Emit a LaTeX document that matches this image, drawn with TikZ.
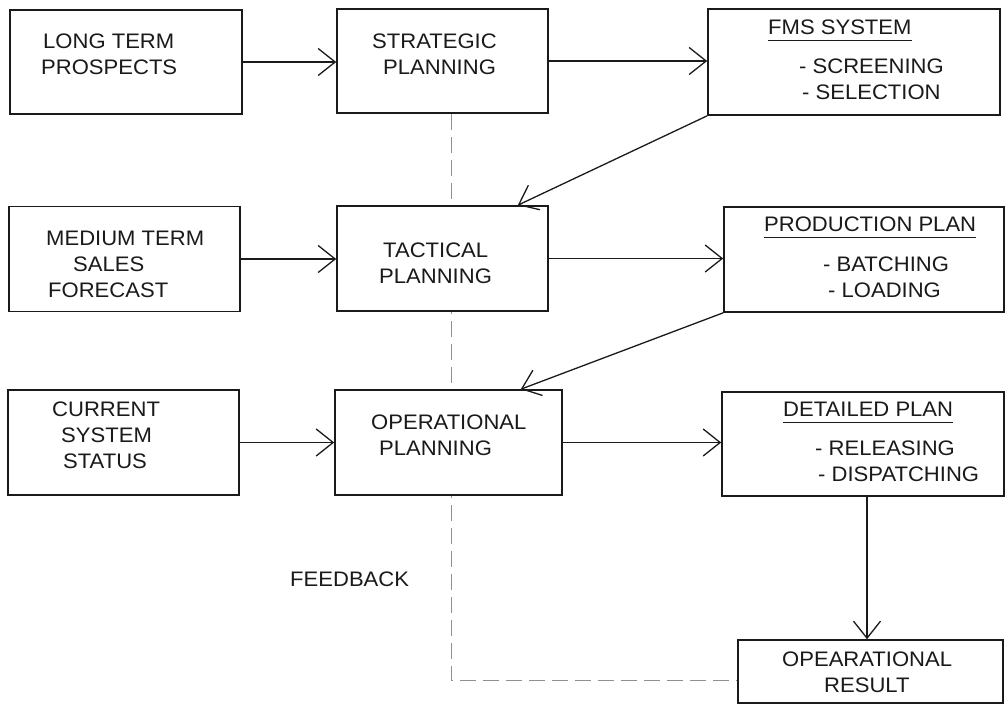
\documentclass[tikz,border=0pt]{standalone}
\usepackage{fontspec}
\setmainfont{Liberation Sans}[FakeStretch=1.05]
\usetikzlibrary{arrows.meta,backgrounds}
\definecolor{ink}{HTML}{1A1A1A}
\definecolor{fbgray}{HTML}{909090}
% underlined heading inside a box
\newcommand\titleul[1]{\setbox0\hbox{#1}\rlap{\rule[-6pt]{\wd0}{0.9pt}}\box0}

\begin{document}
\begin{tikzpicture}[x=1pt,y=-1pt,
  box/.style={draw=ink, line width=1.6pt, fill=white, rectangle, inner sep=0pt},
  txt/.style={anchor=north west, inner sep=0pt, align=left, text=ink,
              font=\fontsize{21}{26}\selectfont},
  arr/.style={draw=ink, line width=1.3pt, -{Straight Barb[length=17pt,width=27pt]}},
  fb/.style={draw=fbgray, line width=1pt, dash pattern=on 16pt off 7pt}]

\useasboundingbox (0,0) rectangle (1005,705);

% boxes
\node[box, minimum width=232pt, minimum height=104pt] (A) at (126,62) {};
\node[box, minimum width=211pt, minimum height=104pt] (B) at (442.5,61) {};
\node[box, minimum width=292pt, minimum height=106pt] (C) at (854,62) {};
\node[box, minimum width=231pt, minimum height=105pt] (D) at (124.5,259) {};
\node[box, minimum width=211pt, minimum height=105pt] (E) at (442.5,258.5) {};
\node[box, minimum width=280pt, minimum height=105pt] (F) at (864,259.5) {};
\node[box, minimum width=231pt, minimum height=105pt] (G) at (123.5,442.5) {};
\node[box, minimum width=227pt, minimum height=105pt] (H) at (448.5,442.5) {};
\node[box, minimum width=282pt, minimum height=104pt] (I) at (863,444) {};
\node[box, minimum width=265pt, minimum height=63pt] (J) at (870.5,671.5) {};

% box texts
\node[txt] (tA) at (41,33.8) {\hspace*{2pt}LONG TERM\\PROSPECTS};
\node[txt] (tB) at (372,33.8) {STRATEGIC\\\hspace*{11pt}PLANNING};
\node[txt] (tC) at (768,19.8) {\titleul{FMS SYSTEM}\\[13pt]\hspace*{31pt}- SCREENING\\\hspace*{34pt}- SELECTION};
\node[txt] (tD) at (46,230.8) {MEDIUM TERM\\\hspace*{27pt}SALES\\\hspace*{2pt}FORECAST};
\node[txt] (tE) at (379,242.8) {\hspace*{4pt}TACTICAL\\PLANNING};
\node[txt] (tF) at (764,216.8) {\titleul{PRODUCTION PLAN}\\[14pt]\hspace*{59pt}- BATCHING\\\hspace*{64pt}- LOADING};
\node[txt] (tG) at (52,401.8) {CURRENT\\\hspace*{9pt}SYSTEM\\\hspace*{11pt}STATUS};
\node[txt] (tH) at (371,414.8) {OPERATIONAL\\\hspace*{8pt}PLANNING};
\node[txt] (tI) at (783,401.8) {\titleul{DETAILED PLAN}\\[13pt]\hspace*{32pt}- RELEASING\\\hspace*{35pt}- DISPATCHING};
\node[txt] (tJ) at (782,651.8) {OPEARATIONAL\\\hspace*{42pt}RESULT};
\node[txt] (fbl) at (290,571.8) {FEEDBACK};

% feedback path, behind the boxes
\coordinate (fbcorner) at (451,680);
\begin{pgfonlayer}{background}
  \draw[fb] (B.south -| fbcorner) -- (fbcorner) -- (fbcorner -| J.west);
\end{pgfonlayer}

% inputs into the planning levels
\draw[arr] (A.east) -- (A.east -| B.west);
\draw[arr] (D.east) -- (D.east -| E.west);
\draw[arr] (G.east) -- (G.east -| H.west);

% planning levels to their plans
\draw[arr] (B.east) -- (B.east -| C.west);
\draw[arr] (E.east) -- (E.east -| F.west);
\draw[arr] (H.east) -- (H.east -| I.west);

% plans feeding the next level down
\draw[arr] (C.south west) -- ([xshift=-31pt]E.north east);
\draw[arr] (F.south west) -- ([xshift=-42pt]H.north east);
\draw[arr] ([xshift=4pt]I.south) -- ([xshift=4pt]I.south |- J.north);
\end{tikzpicture}
\end{document}
